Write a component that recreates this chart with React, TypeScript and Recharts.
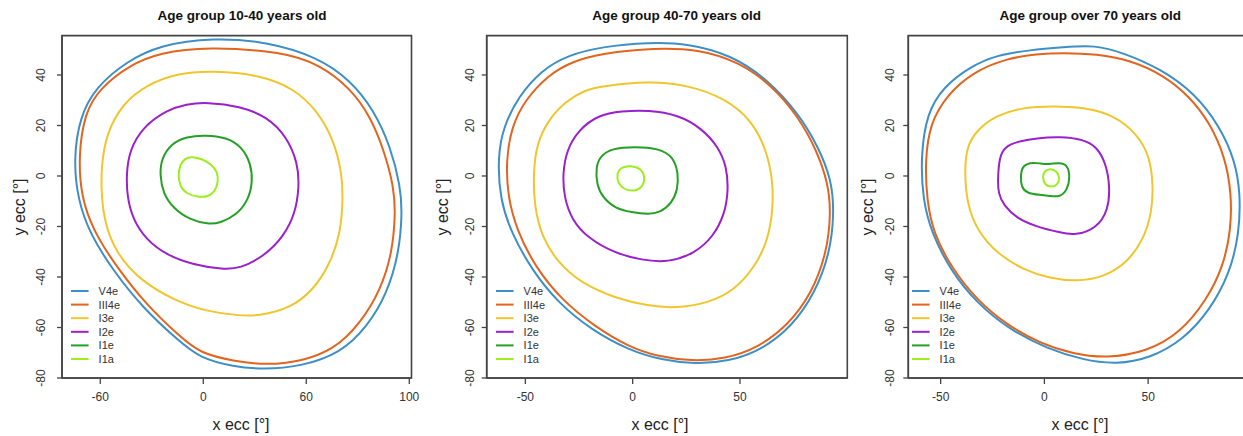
import React from 'react';
import { ScatterChart, Scatter, XAxis, YAxis, ReferenceArea, Legend } from 'recharts';

type Pt = [number, number];

// ---------- Panel 1: Age group 10-40 years old ----------
const p1V4e: Pt[] = [[5.8,54.8],[37,53.2],[66.2,47.2],[85.7,38],[99.4,26.1],[109.1,11.6],[114.9,-4.2],[115.9,-14.8],[114,-30.6],[107.1,-46.5],[95.5,-59.7],[79.9,-70.2],[56.5,-75.5],[35.1,-76.6],[17.5,-75.5],[-1.9,-72.2],[-14.8,-65],[-35,-52.4],[-52.8,-37.2],[-66.2,-22.7],[-73,-9.5],[-75.6,6.3],[-72,23.5],[-62.3,35.4],[-44.8,45.3],[-25.3,51.9]];
const p1III4e: Pt[] = [[1.9,51.2],[46.8,49.2],[68.2,44],[85.7,34.7],[97.4,23.5],[105.2,10.3],[111,-4.2],[112,-14.8],[110,-30.6],[103.3,-45.1],[91.6,-58.3],[76,-68.9],[56.5,-73.5],[37,-74.9],[17.5,-73.3],[-1.9,-70.2],[-13.6,-63.6],[-33.1,-51.1],[-50.7,-35.9],[-64.3,-21.4],[-71.1,-8.2],[-72.7,7.7],[-69.2,24.8],[-60.4,34.7],[-42.9,44],[-25.3,48.8]];
const p1I3e: Pt[] = [[5.8,41.7],[33.1,40],[52.6,34.7],[66.2,26.1],[76,14.3],[80.8,1.1],[81.4,-9.5],[79.9,-22.7],[74,-34.6],[64.3,-45.1],[50.7,-52.4],[33.1,-55.3],[21.4,-55.4],[1.9,-53.7],[-17.5,-49.1],[-37,-41.2],[-50.7,-30.6],[-57.5,-18.7],[-59.4,-6.9],[-59.4,3.7],[-56.5,16.9],[-46.8,28.8],[-33.1,36],[-15.6,40.7]];
const p1I2e: Pt[] = [[1.9,29.2],[21.4,27.7],[37,23.5],[48.7,15.6],[55.1,5],[55.9,-4.2],[53.6,-14.8],[46.8,-24],[35.1,-31.9],[21.4,-36.6],[11.7,-37],[-5.8,-35.2],[-21.4,-31.3],[-33.1,-25.3],[-40.9,-17.4],[-44.4,-8.2],[-44.8,1.1],[-42.9,10.3],[-35.1,19.5],[-21.4,26.1],[-9.7,28.5]];
const p1I1e: Pt[] = [[1,16.2],[13.6,15.3],[22.4,11.6],[27.7,5],[28.8,-2.2],[26.3,-9.5],[19.5,-15.4],[9.7,-18.7],[2.9,-19.1],[-7.8,-17.4],[-17.5,-12.8],[-23.4,-6.9],[-25.3,0.4],[-24.4,7],[-18.5,12.9],[-9.7,15.6]];
const p1I1a: Pt[] = [[-6.8,7.7],[0,6.6],[4.9,4.4],[8.2,1.7],[8.8,-2.2],[6.8,-6.2],[2.9,-8.2],[-2.9,-8.4],[-9.7,-7.1],[-13.6,-4.2],[-14.6,0.4],[-13.6,4.4],[-10.7,7]];

// ---------- Panel 2: Age group 40-70 years old ----------
const p2V4e: Pt[] = [[-14.4,51.2],[7.3,52.9],[25.9,52.5],[46.1,47.9],[63.2,38],[77.2,24.8],[86.5,11.6],[92.7,-1.6],[93.9,-14.8],[91.9,-30.6],[84.9,-46.5],[74.1,-59.7],[60.1,-68.9],[44.6,-73.5],[29,-74.5],[13.5,-72.9],[-2,-68.9],[-19.1,-61],[-34.6,-50.4],[-47,-37.2],[-56.4,-22.7],[-61.8,-9.5],[-62.9,7.7],[-60.2,19.5],[-53.3,31.4],[-42.4,42],[-30,47.9]];
const p2III4e: Pt[] = [[-14.4,48.6],[10.4,50.8],[30.6,50.2],[49.2,45.3],[64.8,36],[77.2,23.5],[85.7,10.3],[91.1,-2.9],[92.4,-14.8],[90.4,-30.6],[83.4,-46.5],[72.5,-59],[58.5,-68],[43,-72.5],[27.5,-73.3],[12,-71.6],[-2,-67.6],[-17.5,-59.7],[-33.1,-49.1],[-45.5,-35.9],[-54,-21.4],[-58.2,-8.2],[-59,6.3],[-56.4,19.5],[-50.2,30.1],[-39.3,40],[-28.4,45.3]];
const p2I3e: Pt[] = [[-14.4,35.6],[7.3,37.6],[25.9,36],[43,30.8],[55.4,22.2],[62.4,10.3],[65.2,-1.6],[65.5,-12.1],[63.2,-25.3],[57,-35.9],[47.7,-45.1],[35.2,-50.4],[19.7,-52.4],[7.3,-51.5],[-8.2,-48.4],[-23.8,-42.5],[-34.6,-34.6],[-42.4,-24],[-45.8,-12.1],[-46.3,1.1],[-44.7,12.9],[-39.3,22.2],[-31.5,29.4],[-22.2,34.1]];
const p2I2e: Pt[] = [[-5.1,25.7],[7.3,26.1],[21.3,24.2],[32.1,18.9],[39.9,11.6],[43.8,3.7],[44.6,-5.5],[43,-14.8],[37.6,-24],[29,-30.6],[16.6,-34.3],[4.2,-33.3],[-8.2,-30.6],[-20.7,-24.7],[-28.4,-17.4],[-32,-8.2],[-32.6,1.1],[-30.7,10.3],[-25.3,18.2],[-16,24.2]];
const p2I1e: Pt[] = [[-9.8,11],[1.1,11.6],[12,11],[18.9,7.7],[21.3,1.1],[21,-5.5],[18.2,-10.8],[12.7,-14.5],[7.3,-15.2],[-0.5,-14.4],[-8.2,-12.8],[-13.7,-8.8],[-16.8,-3.6],[-17.1,3.7],[-15.2,7.7]];
const p2I1a: Pt[] = [[-4.3,3.7],[0.3,4.1],[4.2,2.6],[5.7,-0.3],[5,-4],[1.9,-5.8],[-2,-5.9],[-5.9,-4.2],[-7.5,-0.9],[-6.7,2.4]];

// ---------- Panel 3: Age group over 70 years old ----------
const p3V4e: Pt[] = [[-59.6,7.7],[-56.7,24.8],[-48.6,35.4],[-35.8,43.3],[-23,47.9],[-6.9,49.9],[9.1,51],[24.4,51.9],[38,48.8],[55.7,42.6],[72.6,32.7],[84.6,19.5],[91.8,6.3],[94.5,-6.9],[93.9,-22.7],[89.4,-38.5],[79.8,-53.1],[66.9,-64.9],[50.9,-72.2],[34.8,-74.6],[18.8,-72.9],[1.1,-68.3],[-16.5,-61],[-32.6,-50.4],[-45.4,-37.2],[-54.3,-22.7],[-58.6,-9.5]];
const p3III4e: Pt[] = [[-57.5,6.3],[-55.1,20.9],[-47,32.1],[-34.2,41.3],[-18.1,46.6],[-3.7,48.3],[9.1,48.8],[25.2,48.3],[41.3,45.9],[57.3,40],[70.1,31.4],[79.8,20.9],[87,7.7],[90.2,-6.9],[89.9,-21.4],[86.2,-35.9],[78.2,-49.1],[65.3,-62.3],[49.3,-69.6],[30,-72.2],[14,-70.5],[-2.1,-66.3],[-18.1,-59],[-32.6,-49.1],[-44.6,-36.6],[-53.5,-22.7],[-56.7,-9.5]];
const p3I3e: Pt[] = [[-38.5,2.4],[-37.4,11.6],[-32.6,18.2],[-23,24.2],[-10.1,27.2],[4.3,27.7],[18.8,27.2],[33.2,24.2],[44.5,16.9],[50.9,7.7],[52.5,-4.2],[51.7,-14.8],[47.7,-25.3],[39.6,-34.6],[28.4,-40.1],[15.6,-41.8],[2.7,-40.5],[-10.1,-37.2],[-23,-30.6],[-32.6,-21.4],[-37.4,-10.8]];
const p3I2e: Pt[] = [[-22.5,-1.6],[-21.7,7.7],[-18.9,11.6],[-13.3,13.6],[-3.7,15],[7.5,15.6],[18.8,14.5],[25.2,11.6],[29.7,5],[31.6,-4.2],[30.8,-13.5],[25.2,-20.7],[14.8,-23.6],[7.5,-22.4],[-3.7,-20.1],[-13.3,-16.8],[-19.7,-11.5],[-22.2,-6.9]];
const p3I1e: Pt[] = [[-11.4,-0.3],[-10.9,3.7],[-6.9,5.4],[-2.1,5],[1.9,4.6],[7.5,5.3],[11.1,4.4],[12.4,-0.3],[11.1,-5.5],[7.5,-8.4],[2.7,-7.9],[-2.1,-7.5],[-8.5,-6.9],[-11.2,-4.2]];
const p3I1a: Pt[] = [[2.7,3],[5.9,2.1],[7.5,-0.9],[6.3,-3.6],[3.2,-4.5],[0.3,-3.6],[-1,-0.7],[0,2.1]];

// ---------- Shared labels / ticks ----------
const isopterNames = ['V4e', 'III4e', 'I3e', 'I2e', 'I1e', 'I1a'];
const isopterColors = ['#3d8fc6', '#e1641f', '#f0c62e', '#9b1fcc', '#24a024', '#9cee1c'];
const panelTitles = ['Age group 10-40 years old', 'Age group 40-70 years old', 'Age group over 70 years old'];
const yTicks = [-80, -60, -40, -20, 0, 20, 40];
const p1XTicks = [-60, 0, 60, 120];
const p1XTickLabels = ['-60', '0', '60', '100'];
const p23XTicks = [-50, 0, 50];
const p23XTickLabels = ['-50', '0', '50'];
const xTitle = 'x ecc [°]';
const yTitle = 'y ecc [°]';

const yDomain: [number, number] = [-80, 55.6];
const FONT = '"Liberation Sans", Arial, Helvetica, sans-serif';
const AXIS = '#444';

const toPts = (arr: Pt[]) => arr.map(([x, y]) => ({ x, y }));
const NoDot = () => <g />;

type PanelCfg = {
  series: Pt[][];
  xDomain: [number, number];
  xTicks: number[];
  xLabels: string[];
  left: number;
  width: number;
  plotLeft: number;
  plotRight: number;
  yLabelShift: number;
  legendX: number;
};

const panels: PanelCfg[] = [
  { series: [p1V4e, p1III4e, p1I3e, p1I2e, p1I1e, p1I1a], xDomain: [-82.3, 121.3], xTicks: p1XTicks, xLabels: p1XTickLabels, left: 0, width: 440, plotLeft: 62, plotRight: 411.5, yLabelShift: -9.6, legendX: 70.7 },
  { series: [p2V4e, p2III4e, p2I3e, p2I2e, p2I1e, p2I1a], xDomain: [-68, 100], xTicks: p23XTicks, xLabels: p23XTickLabels, left: 440, width: 420, plotLeft: 486.7, plotRight: 847.3, yLabelShift: -6, legendX: 495.7 },
  { series: [p3V4e, p3III4e, p3I3e, p3I2e, p3I1e, p3I1a], xDomain: [-65.6, 100.3], xTicks: p23XTicks, xLabels: p23XTickLabels, left: 860, width: 400, plotLeft: 908.3, plotRight: 1252.5, yLabelShift: -7.6, legendX: 912.3 },
];

const LegendBox = () => (
  <svg width={70} height={86} style={{ display: 'block', overflow: 'visible' }}>
    {isopterNames.map((n, i) => {
      const cy = 6 + i * 13.6;
      return (
        <g key={n}>
          <line x1={0} x2={17.6} y1={cy} y2={cy} stroke={isopterColors[i]} strokeWidth={2} />
          <text x={27.6} y={cy + 4} fontSize={11} fontFamily={FONT} fill="#333">{n}</text>
        </g>
      );
    })}
  </svg>
);

function Panel({ cfg }: { cfg: PanelCfg }) {
  const yAxisW = 30;
  const xAxisH = 30;
  const plotTop = 35.6;
  const plotBottom = 378;
  const H = 436;
  const XTick = (props: any) => {
    const { x, y, payload, index } = props;
    const i = cfg.xTicks.indexOf(payload.value);
    const label = i >= 0 ? cfg.xLabels[i] : String(payload.value);
    return (
      <text x={x} y={y + 15} textAnchor="middle" fontSize={12} fontFamily={FONT} fill="#333" key={index}>{label}</text>
    );
  };
  const YTick = (props: any) => {
    const { x, y, payload } = props;
    const tx = x + cfg.yLabelShift;
    return (
      <text x={tx} y={y} transform={`rotate(-90 ${tx} ${y})`} textAnchor="middle" fontSize={12} fontFamily={FONT} fill="#333">{payload.value}</text>
    );
  };
  return (
    <div style={{ position: 'absolute', left: cfg.left, top: 0 }}>
      <ScatterChart
        width={cfg.width}
        height={H}
        margin={{
          top: plotTop,
          bottom: H - plotBottom - xAxisH,
          left: cfg.plotLeft - cfg.left - yAxisW,
          right: cfg.left + cfg.width - cfg.plotRight,
        }}
      >
        <XAxis type="number" dataKey="x" domain={cfg.xDomain} ticks={cfg.xTicks} interval={0} allowDataOverflow height={xAxisH} tickSize={6} axisLine={{ stroke: AXIS, strokeWidth: 1.5 }} tickLine={{ stroke: AXIS, strokeWidth: 1.3 }} tick={XTick} />
        <YAxis type="number" dataKey="y" domain={yDomain} ticks={yTicks} interval={0} allowDataOverflow width={yAxisW} tickSize={5} axisLine={{ stroke: AXIS, strokeWidth: 1.5 }} tickLine={{ stroke: AXIS, strokeWidth: 1.3 }} tick={YTick} />
        <ReferenceArea x1={cfg.xDomain[0]} x2={cfg.xDomain[1]} y1={yDomain[0]} y2={yDomain[1]} fill="none" fillOpacity={0} stroke={AXIS} strokeWidth={1.6} ifOverflow="visible" />
        {cfg.series.map((s, i) => (
          <Scatter
            key={isopterNames[i]}
            name={isopterNames[i]}
            data={toPts(s)}
            fill={isopterColors[i]}
            line={{ stroke: isopterColors[i], strokeWidth: 2, fill: 'none' }}
            lineType="joint"
            lineJointType="basisClosed"
            shape={NoDot}
            isAnimationActive={false}
          />
        ))}
        <Legend
          layout="horizontal"
          verticalAlign="middle"
          align="center"
          content={LegendBox}
          wrapperStyle={{ left: cfg.legendX - cfg.left, top: 285, width: 70, height: 86 }}
        />
      </ScatterChart>
    </div>
  );
}

const titleCx = [242, 676.7, 1090.3];
const xTitleCx = [241, 660, 1080];
const yTitleX = [24.5, 447.8, 872.8];

export default function App() {
  return (
    <div style={{ position: 'fixed', left: 0, top: 0, width: 1243, height: 436, overflow: 'hidden', background: '#fff' }}>
      {panels.map((p, i) => (
        <Panel key={i} cfg={p} />
      ))}
      <svg width={1243} height={436} style={{ position: 'absolute', left: 0, top: 0, pointerEvents: 'none' }}>
        {panelTitles.map((t, i) => (
          <text key={t} x={titleCx[i]} y={19.5} textAnchor="middle" fontSize={13.5} fontWeight="bold" fontFamily={FONT} fill="#111">{t}</text>
        ))}
        {xTitleCx.map((cx, i) => (
          <text key={'x' + i} x={cx} y={430} textAnchor="middle" fontSize={16} fontFamily={FONT} fill="#222">{xTitle}</text>
        ))}
        {yTitleX.map((tx, i) => (
          <text key={'y' + i} x={tx} y={207} transform={`rotate(-90 ${tx} 207)`} textAnchor="middle" fontSize={16} fontFamily={FONT} fill="#222">{yTitle}</text>
        ))}
      </svg>
    </div>
  );
}
